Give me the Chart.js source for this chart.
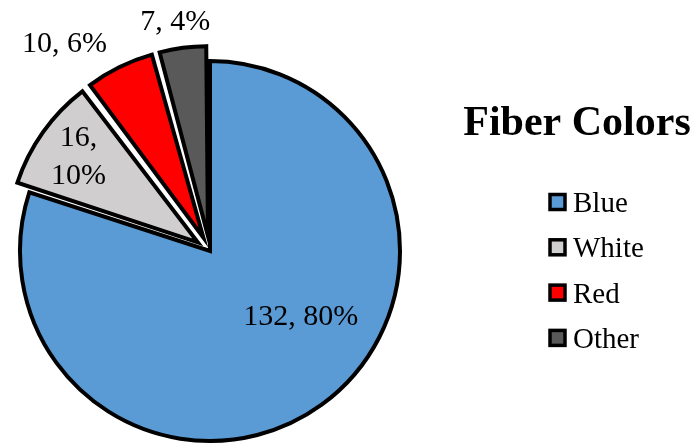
<!DOCTYPE html>
<html>
<head>
<meta charset="utf-8">
<script src="https://cdn.jsdelivr.net/npm/chart.js@4"></script>
<style>
  html, body { margin: 0; padding: 0; background: #fff; }
  canvas { display: block; }
</style>
</head>
<body>
<canvas id="fiberChart" width="694" height="444"></canvas>
<script>
// data
const chartTitle = 'Fiber Colors';
const categories = ['Blue', 'White', 'Red', 'Other'];
const counts = [132, 16, 10, 7];

const sliceColors = ['#5B9BD5', '#D0CECE', '#FF0000', '#595959'];
const serif = '"Liberation Serif", "Times New Roman", serif';

// chart.js grows exploded arcs a bit, pull them back to the pie radius
const keepRadius = {
    id: 'keepRadius',
    afterDatasetsUpdate(chart) {
        chart.getDatasetMeta(0).data.forEach(arc => {
            const off = (arc.options.offset || 0) / 4;
            const fix = 1 - Math.sin(Math.min(Math.PI, arc.circumference));
            arc.outerRadius -= off * fix;
        });
    }
};

const sliceLabels = {
    id: 'sliceLabels',
    afterDatasetsDraw(chart, args, opts) {
        const ctx = chart.ctx;
        const meta = chart.getDatasetMeta(0);
        const total = counts.reduce((a, b) => a + b, 0);
        const baseR = meta.controller.outerRadius;
        ctx.save();
        ctx.font = '30px ' + serif;
        ctx.fillStyle = '#000';
        ctx.textAlign = 'center';
        ctx.textBaseline = 'middle';
        meta.data.forEach((arc, i) => {
            const [f, shift, wrap] = opts.place[i];
            const mid = (arc.startAngle + arc.endAngle) / 2 + shift * Math.PI / 180;
            const px = arc.x + Math.cos(mid) * baseR * f;
            const py = arc.y + Math.sin(mid) * baseR * f;
            const pct = Math.round(counts[i] / total * 100) + '%';
            if (wrap) {
                ctx.fillText(counts[i] + ',', px, py - 19);
                ctx.fillText(pct, px, py + 19);
            } else {
                ctx.fillText(counts[i] + ', ' + pct, px, py);
            }
        });
        ctx.restore();
    }
};

const sideLegend = {
    id: 'sideLegend',
    afterDraw(chart) {
        const ctx = chart.ctx;
        ctx.save();
        ctx.fillStyle = '#000';
        ctx.font = 'bold 42px ' + serif;
        ctx.textAlign = 'center';
        ctx.textBaseline = 'alphabetic';
        ctx.fillText(chartTitle, 577, 135);

        ctx.font = '29px ' + serif;
        ctx.textAlign = 'left';
        categories.forEach((name, i) => {
            const y = 202 + i * 45.3;
            ctx.fillStyle = sliceColors[i];
            ctx.fillRect(550, y - 7.5, 15, 15);
            ctx.lineWidth = 3.5;
            ctx.strokeStyle = '#000';
            ctx.strokeRect(550, y - 7.5, 15, 15);
            ctx.fillStyle = '#000';
            ctx.fillText(name, 573, y + 10);
        });
        ctx.restore();
    }
};

const ctx = document.getElementById('fiberChart').getContext('2d');
new Chart(ctx, {
    type: 'pie',
    data: {
        labels: categories,
        datasets: [{
            data: counts,
            backgroundColor: sliceColors,
            borderColor: '#000',
            borderWidth: 4,
            borderJoinStyle: 'miter',
            offset: [0, 60, 60, 60]
        }]
    },
    options: {
        responsive: false,
        animation: false,
        events: [],
        radius: 190,
        layout: { padding: { left: 0, right: 274, top: 58, bottom: 0 } },
        plugins: {
            legend: { display: false },
            tooltip: { enabled: false },
            sliceLabels: {
                place: [[0.59, -18, false], [0.85, 0, true], [1.33, -9, false], [1.22, -1, false]]
            }
        }
    },
    plugins: [keepRadius, sliceLabels, sideLegend]
});
</script>
</body>
</html>
